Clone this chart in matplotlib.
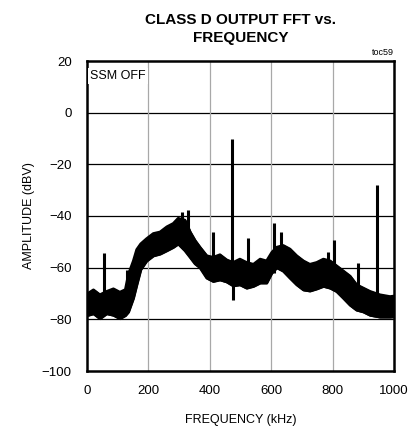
import numpy as np
import matplotlib.pyplot as plt

plt.rcParams['font.family'] = ['Liberation Sans', 'DejaVu Sans']

# noise floor envelope (kHz, dBV)
freq = [0, 4, 21, 42, 64, 86, 107, 125, 135, 151, 162, 175, 194, 216, 238,
        260, 281, 297, 319, 336, 352, 368, 390, 411, 433, 455, 476, 498, 520,
        542, 564, 585, 602, 618, 639, 661, 683, 705, 726, 748, 770, 792, 813,
        835, 857, 878, 900, 922, 954, 987, 1000]
upper = [-70, -69.9, -68.6, -70.5, -69.2, -68.2, -69.5, -68.5, -62.6, -57.4,
         -53, -50.8, -48.8, -46.8, -46.2, -44.2, -42.9, -40.9, -41.6, -46.2,
         -49.5, -52.1, -55.4, -56, -55, -57, -58, -56.7, -58, -58.7, -56.7,
         -57.4, -54.1, -52.1, -51.4, -52.8, -55.4, -57.4, -58.7, -58, -56.7,
         -57.4, -59.3, -61.3, -63.3, -66.6, -67.9, -69.2, -70.5, -71.2, -71]
lower = [-78, -78.4, -77.8, -79.7, -77.8, -78.4, -79.7, -78.5, -77.1, -71.8,
         -66.6, -60.7, -57.4, -55.4, -54.7, -53.4, -52.1, -50.8, -53.4, -56,
         -58.5, -60, -64, -65.3, -64.7, -65.5, -67, -66.6, -67.9, -67.2, -65.9,
         -65.9, -62, -60, -61.3, -64, -66.6, -68.6, -69, -68.2, -67.2, -67.9,
         -69.2, -71.8, -74.5, -76.4, -77.1, -78.4, -79.1, -79.1, -79]

# discrete spurs
spur_f = [57, 131, 308, 330, 411, 471, 526, 610, 631, 784, 805, 884, 944]
spur_top = [-54.2, -61, -38.3, -37.7, -46, -10.3, -48.6, -42.8, -46, -53.8,
            -49.3, -58.3, -28]
spur_base = [-78, -76, -50, -52, -64, -60, -66, -62, -60, -66, -66, -74, -78]

fig = plt.figure(figsize=(4.17, 4.29), dpi=100)
ax = fig.add_axes([87 / 417, 1 - 371 / 429, 307 / 417, 310 / 429])

ax.fill_between(freq, lower, upper, color='black', lw=1.5, zorder=3)
ax.plot(freq, upper, color='black', lw=2, zorder=3)
ax.plot(freq, lower, color='black', lw=2, zorder=3)
ax.vlines(spur_f, spur_base, spur_top, color='black', lw=2.2, zorder=3)
ax.vlines([476], [-60], [-72.5], color='black', lw=2.2, zorder=3)

ax.set_xlim(0, 1000)
ax.set_ylim(-100, 20)
ax.set_xticks([0, 200, 400, 600, 800, 1000])
ax.set_yticks([-100, -80, -60, -40, -20, 0, 20])
ax.tick_params(length=0, labelsize=9.5)
ax.tick_params(axis='y', pad=11)
ax.tick_params(axis='x', pad=10)

for v in [0, -20, -40, -60, -80]:
    ax.axhline(v, color='black', lw=0.9, zorder=1)
for f in [200, 400, 600, 800]:
    ax.axvline(f, color='#a8a8a8', lw=0.9, zorder=1)

for s in ax.spines.values():
    s.set_linewidth(1.8)
    s.set_zorder(4)

ax.set_xlabel('FREQUENCY (kHz)', fontsize=9, labelpad=12)
ax.set_ylabel('AMPLITUDE (dBV)', fontsize=9, labelpad=5)
ax.set_title('CLASS D OUTPUT FFT vs.\nFREQUENCY', fontsize=11, fontweight='bold',
             pad=14, linespacing=1.3)

ax.text(0.01, 0.97, 'SSM OFF', transform=ax.transAxes, fontsize=9,
        va='top', ha='left', zorder=5,
        bbox=dict(facecolor='white', edgecolor='none', pad=1.5))
ax.text(1.0, 1.012, 'toc59', transform=ax.transAxes, fontsize=6.5,
        ha='right', va='bottom')

fig.savefig('out.png', dpi=100)
